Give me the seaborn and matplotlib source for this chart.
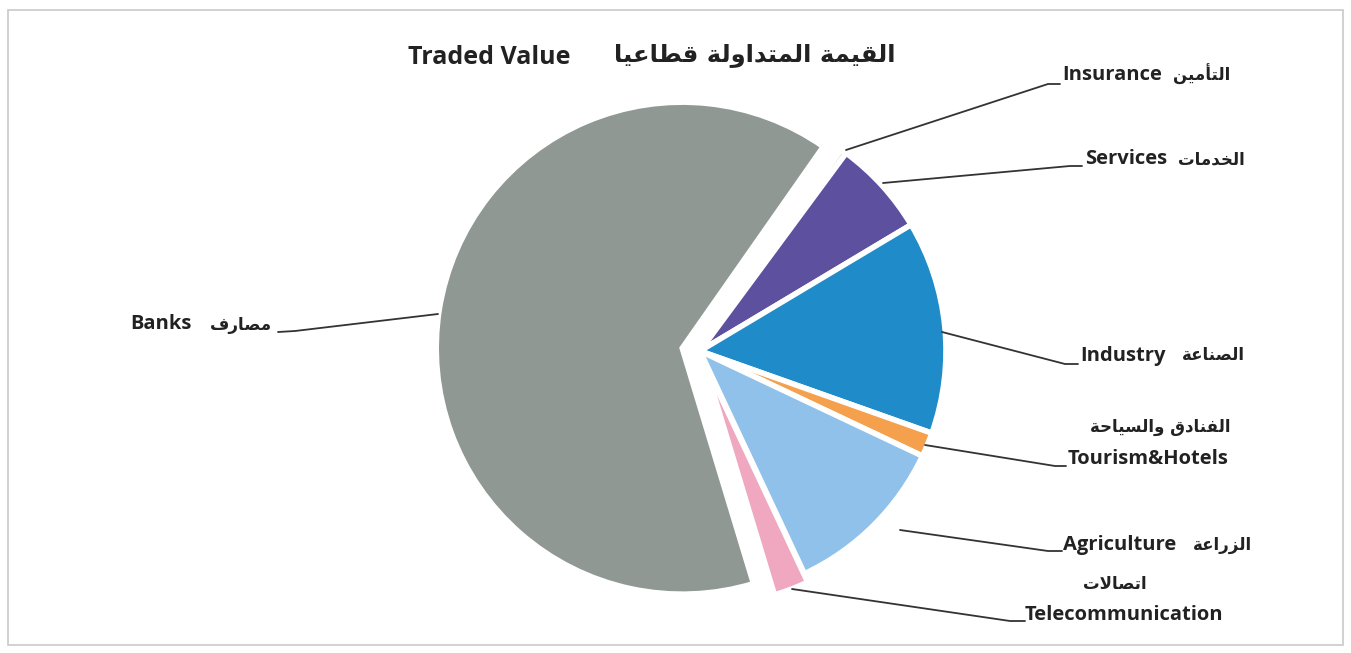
import matplotlib
matplotlib.use("Agg")
import matplotlib.pyplot as plt
import seaborn as sns
from matplotlib.patches import Rectangle

# sector data, clockwise from the top
sectors_en = ["Insurance", "Services", "Industry", "Tourism&Hotels",
              "Agriculture", "Telecommunication", "Banks"]
sectors_ar = ["التأمين", "الخدمات", "الصناعة", "الفنادق والسياحة",
              "الزراعة", "اتصالات", "مصارف"]
shares = [0.4, 6.3, 14.0, 1.6, 11.0, 2.3, 64.4]
slice_colors = ["#e9b3c4", "#5c509f", "#1f8bc9", "#f5a04c",
                "#8fc1eb", "#f0a7c0", "#8f9893"]
explode = [0, 0, 0, 0, 0, 9, 18]  # pie explode is in data units (pixels here)
title_en = "Traded Value"
title_ar = "القيمة المتداولة قطاعيا"

# matplotlib has no arabic shaping, so build presentation forms by hand
FORMS = {
    'ا': (0xFE8D, 0xFE8E, None, None), 'أ': (0xFE83, 0xFE84, None, None),
    'ة': (0xFE93, 0xFE94, None, None), 'ت': (0xFE95, 0xFE96, 0xFE97, 0xFE98),
    'ح': (0xFEA1, 0xFEA2, 0xFEA3, 0xFEA4), 'خ': (0xFEA5, 0xFEA6, 0xFEA7, 0xFEA8),
    'د': (0xFEA9, 0xFEAA, None, None), 'ر': (0xFEAD, 0xFEAE, None, None),
    'ز': (0xFEAF, 0xFEB0, None, None), 'س': (0xFEB1, 0xFEB2, 0xFEB3, 0xFEB4),
    'ص': (0xFEB9, 0xFEBA, 0xFEBB, 0xFEBC), 'ط': (0xFEC1, 0xFEC2, 0xFEC3, 0xFEC4),
    'ع': (0xFEC9, 0xFECA, 0xFECB, 0xFECC), 'ف': (0xFED1, 0xFED2, 0xFED3, 0xFED4),
    'ق': (0xFED5, 0xFED6, 0xFED7, 0xFED8), 'ل': (0xFEDD, 0xFEDE, 0xFEDF, 0xFEE0),
    'م': (0xFEE1, 0xFEE2, 0xFEE3, 0xFEE4), 'ن': (0xFEE5, 0xFEE6, 0xFEE7, 0xFEE8),
    'و': (0xFEED, 0xFEEE, None, None), 'ي': (0xFEF1, 0xFEF2, 0xFEF3, 0xFEF4),
}
LIG = {'لا': (0xFEFB, 0xFEFC), 'لأ': (0xFEF7, 0xFEF8)}


def shape(s):
    items, i = [], 0
    while i < len(s):
        if s[i] == 'ل' and i + 1 < len(s) and s[i + 1] in 'اأ':
            items.append(s[i:i + 2])
            i += 2
        else:
            items.append(s[i])
            i += 1

    def joins_next(c):
        return c in FORMS and FORMS[c][2] is not None

    out = []
    for k, c in enumerate(items):
        prev = items[k - 1] if k > 0 else None
        nxt = items[k + 1] if k + 1 < len(items) else None
        p = prev is not None and joins_next(prev)
        if c in LIG:
            out.append(chr(LIG[c][1] if p else LIG[c][0]))
            continue
        if c not in FORMS:
            out.append(c)
            continue
        f = FORMS[c]
        n = nxt is not None and (nxt in FORMS or nxt in LIG) and f[2] is not None
        code = f[3] if (p and n) else f[1] if p else f[2] if n else f[0]
        out.append(chr(code))
    return ''.join(reversed(out))


sns.set_style("white")
plt.rcParams['font.family'] = ['Open Sans', 'DejaVu Sans']
W, H = 1351, 653

fig = plt.figure(figsize=(W / 100, H / 100), dpi=100)
ax = fig.add_axes([0, 0, 1, 1])

ax.pie(shares, colors=sns.color_palette(slice_colors), explode=explode,
       startangle=55, counterclock=False, center=(700, H - 351), radius=246,
       wedgeprops=dict(edgecolor="white", linewidth=4))
ax.set_xlim(0, W)
ax.set_ylim(0, H)
ax.set_aspect("equal")
ax.axis("off")

ax.add_patch(Rectangle((8, H - 645), 1335, 635, fill=False,
                       edgecolor="#c9c9c9", linewidth=1.2))


def y(v):
    return H - v


en_kw = dict(fontsize=14.5, fontweight="bold", color="#222222", va="center")
ar_kw = dict(fontsize=12, fontweight="bold", color="#222222", va="center",
             family="DejaVu Sans")

# title
ax.text(408, y(57), title_en, fontsize=18, fontweight="bold", color="#222222",
        va="center", ha="left")
ax.text(895, y(55), shape(title_ar), fontsize=17.5, fontweight="bold",
        color="#222222", va="center", ha="right", family="DejaVu Sans")

# label positions in pixels: english left edge, arabic anchor
en_pos = [(1062, 75), (1085, 159), (1080, 356), (1068, 459),
          (1063, 545), (1025, 615), (130, 324)]
ar_pos = [(1230, 74, "right"), (1245, 160, "right"), (1245, 355, "right"),
          (1160, 427, "center"), (1252, 545, "right"), (1115, 584, "center"),
          (272, 325, "right")]
leaders = [
    [(846, 150), (1048, 84), (1060, 84)],
    [(883, 183), (1070, 166), (1082, 166)],
    [(942, 332), (1065, 364), (1078, 364)],
    [(925, 445), (1055, 466), (1066, 466)],
    [(900, 530), (1048, 551), (1062, 551)],
    [(792, 589), (1010, 621), (1025, 621)],
    [(278, 332), (295, 331), (438, 314)],
]

for en, ar, (ex, ey), (axx, ayy, aha), pts in zip(
        sectors_en, sectors_ar, en_pos, ar_pos, leaders):
    ax.text(ex, y(ey), en, ha="left", **en_kw)
    ax.text(axx, y(ayy), shape(ar), ha=aha, **ar_kw)
    ax.plot([p[0] for p in pts], [y(p[1]) for p in pts],
            color="#333333", linewidth=1.3)

fig.savefig("out.png", dpi=100)
